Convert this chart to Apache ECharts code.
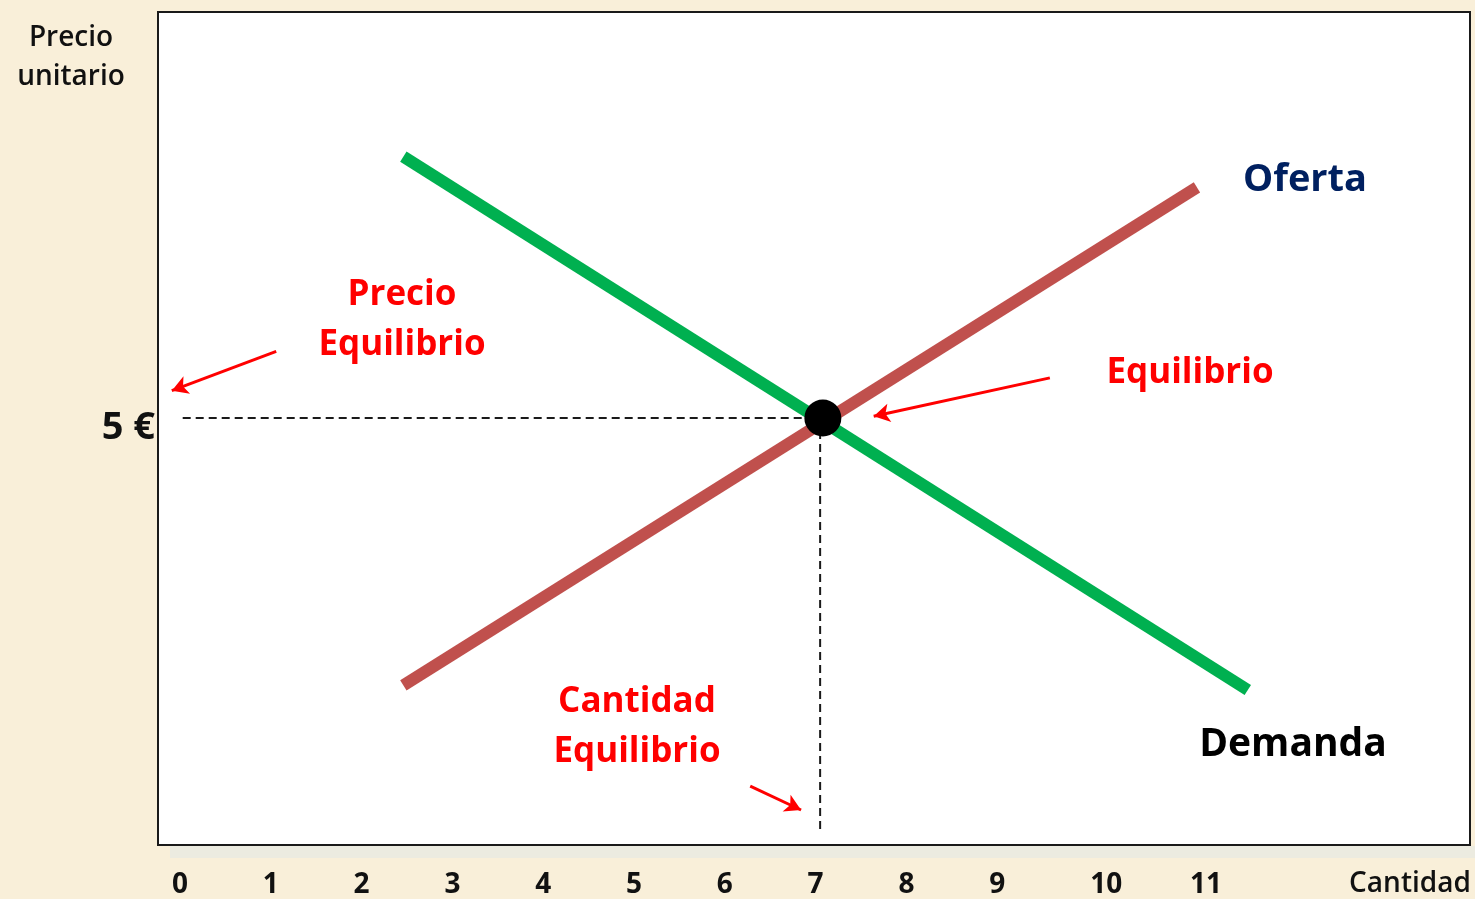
<!DOCTYPE html>
<html>
<head>
<meta charset="utf-8">
<script src="https://cdn.jsdelivr.net/npm/echarts@6/dist/echarts.min.js"></script>
<style>
html,body{margin:0;padding:0;background:#f9efd9;}
#c{width:1475px;height:899px;}
</style>
</head>
<body>
<div id="c"></div>
<script>
// ---- data ----
const tickValues = [0, 1, 2, 3, 4, 5, 6, 7, 8, 9, 10.2, 11.3];
const tickLabels = ['0', '1', '2', '3', '4', '5', '6', '7', '8', '9', '10', '11'];
const priceTicks = [5];
const priceLabels = ['5 €'];
const demanda = [[2.46, 8.06], [11.76, 1.815]];
const oferta = [[2.46, 1.87], [11.2, 7.70]];
const equilibrio = [[7.08, 5]];
const guiaPrecio = [[0.03, 5], [7.08, 5]];
const guiaCantidad = [[7.05, 5], [7.05, 0.18]];
const flechaPrecio = [[1.06, 5.78], [-0.09, 5.32]];
const flechaEquilibrio = [[9.58, 5.47], [7.64, 5.02]];
const flechaCantidad = [[6.28, 0.69], [6.84, 0.41]];

const FONT = '"Open Sans", Lato, sans-serif';
const chart = echarts.init(document.getElementById('c'), null, {renderer: 'canvas'});

function arrow(pts) {
  return [{coord: pts[0]}, {coord: pts[1]}];
}
function txt(x, y, text, fill, font) {
  return {type: 'text', x: x, y: y, z: 100,
    style: {text: text, fill: fill, font: font, align: 'center', verticalAlign: 'middle'}};
}

chart.setOption({
  backgroundColor: '#f9efd9',
  animation: false,
  grid: {
    left: 158, top: 12, width: 1312, height: 833,
    show: true, backgroundColor: '#ffffff', borderColor: '#1a1a1a', borderWidth: 2
  },
  xAxis: {
    type: 'value', min: -0.242, max: 14.207,
    axisLine: {show: false}, axisTick: {show: false}, splitLine: {show: false},
    axisLabel: {
      customValues: tickValues,
      formatter: v => { const i = tickValues.indexOf(v); return i >= 0 ? tickLabels[i] : ''; },
      fontFamily: FONT, fontSize: 28, fontWeight: 'bold', color: '#111', margin: 26
    }
  },
  yAxis: {
    type: 'value', min: 0, max: 9.754,
    axisLine: {show: false}, axisTick: {show: false}, splitLine: {show: false},
    axisLabel: {
      customValues: priceTicks,
      formatter: v => { const i = priceTicks.indexOf(v); return i >= 0 ? priceLabels[i] : ''; },
      fontFamily: FONT, fontSize: 38, fontWeight: 'bold', color: '#111', margin: 3,
      verticalAlign: 'top', lineHeight: 20
    }
  },
  series: [
    {type: 'line', data: guiaPrecio, symbol: 'none', lineStyle: {color: '#1a1a1a', width: 2, type: [8, 5]}, z: 2},
    {type: 'line', data: guiaCantidad, symbol: 'none', lineStyle: {color: '#1a1a1a', width: 2, type: [8, 5]}, z: 2},
    {type: 'line', data: demanda, symbol: 'none', lineStyle: {color: '#00b050', width: 12, cap: 'butt'}, z: 3},
    {type: 'line', data: oferta, symbol: 'none', lineStyle: {color: '#c0504d', width: 12, cap: 'butt'}, z: 4},
    {type: 'scatter', data: equilibrio, symbol: 'circle', symbolSize: 37, itemStyle: {color: '#000', opacity: 1}, z: 5},
    {
      type: 'line', data: [], z: 6,
      markLine: {
        silent: true, symbol: ['none', 'arrow'], symbolSize: [14, 16], label: {show: false},
        lineStyle: {color: '#ff0000', width: 3, type: 'solid'},
        data: [arrow(flechaPrecio), arrow(flechaEquilibrio), arrow(flechaCantidad)]
      }
    }
  ],
  graphic: [
    {type: 'rect', x: 170, y: 846, z: -10, silent: true, shape: {width: 1305, height: 12}, style: {fill: '#ecebe0'}},
    txt(71, 38, 'Precio', '#111', '600 28px ' + FONT),
    txt(71, 77, 'unitario', '#111', '600 28px ' + FONT),
    txt(1410, 884, 'Cantidad', '#111', '600 28px ' + FONT),
    txt(1305, 180, 'Oferta', '#002060', 'bold 38px ' + FONT),
    txt(1293, 745, 'Demanda', '#000', 'bold 39px ' + FONT),
    txt(402, 295, 'Precio', '#ff0000', 'bold 35px ' + FONT),
    txt(402, 345, 'Equilibrio', '#ff0000', 'bold 35px ' + FONT),
    txt(1190, 373, 'Equilibrio', '#ff0000', 'bold 35px ' + FONT),
    txt(637, 702, 'Cantidad', '#ff0000', 'bold 35px ' + FONT),
    txt(637, 752, 'Equilibrio', '#ff0000', 'bold 35px ' + FONT)
  ]
});
</script>
</body>
</html>
